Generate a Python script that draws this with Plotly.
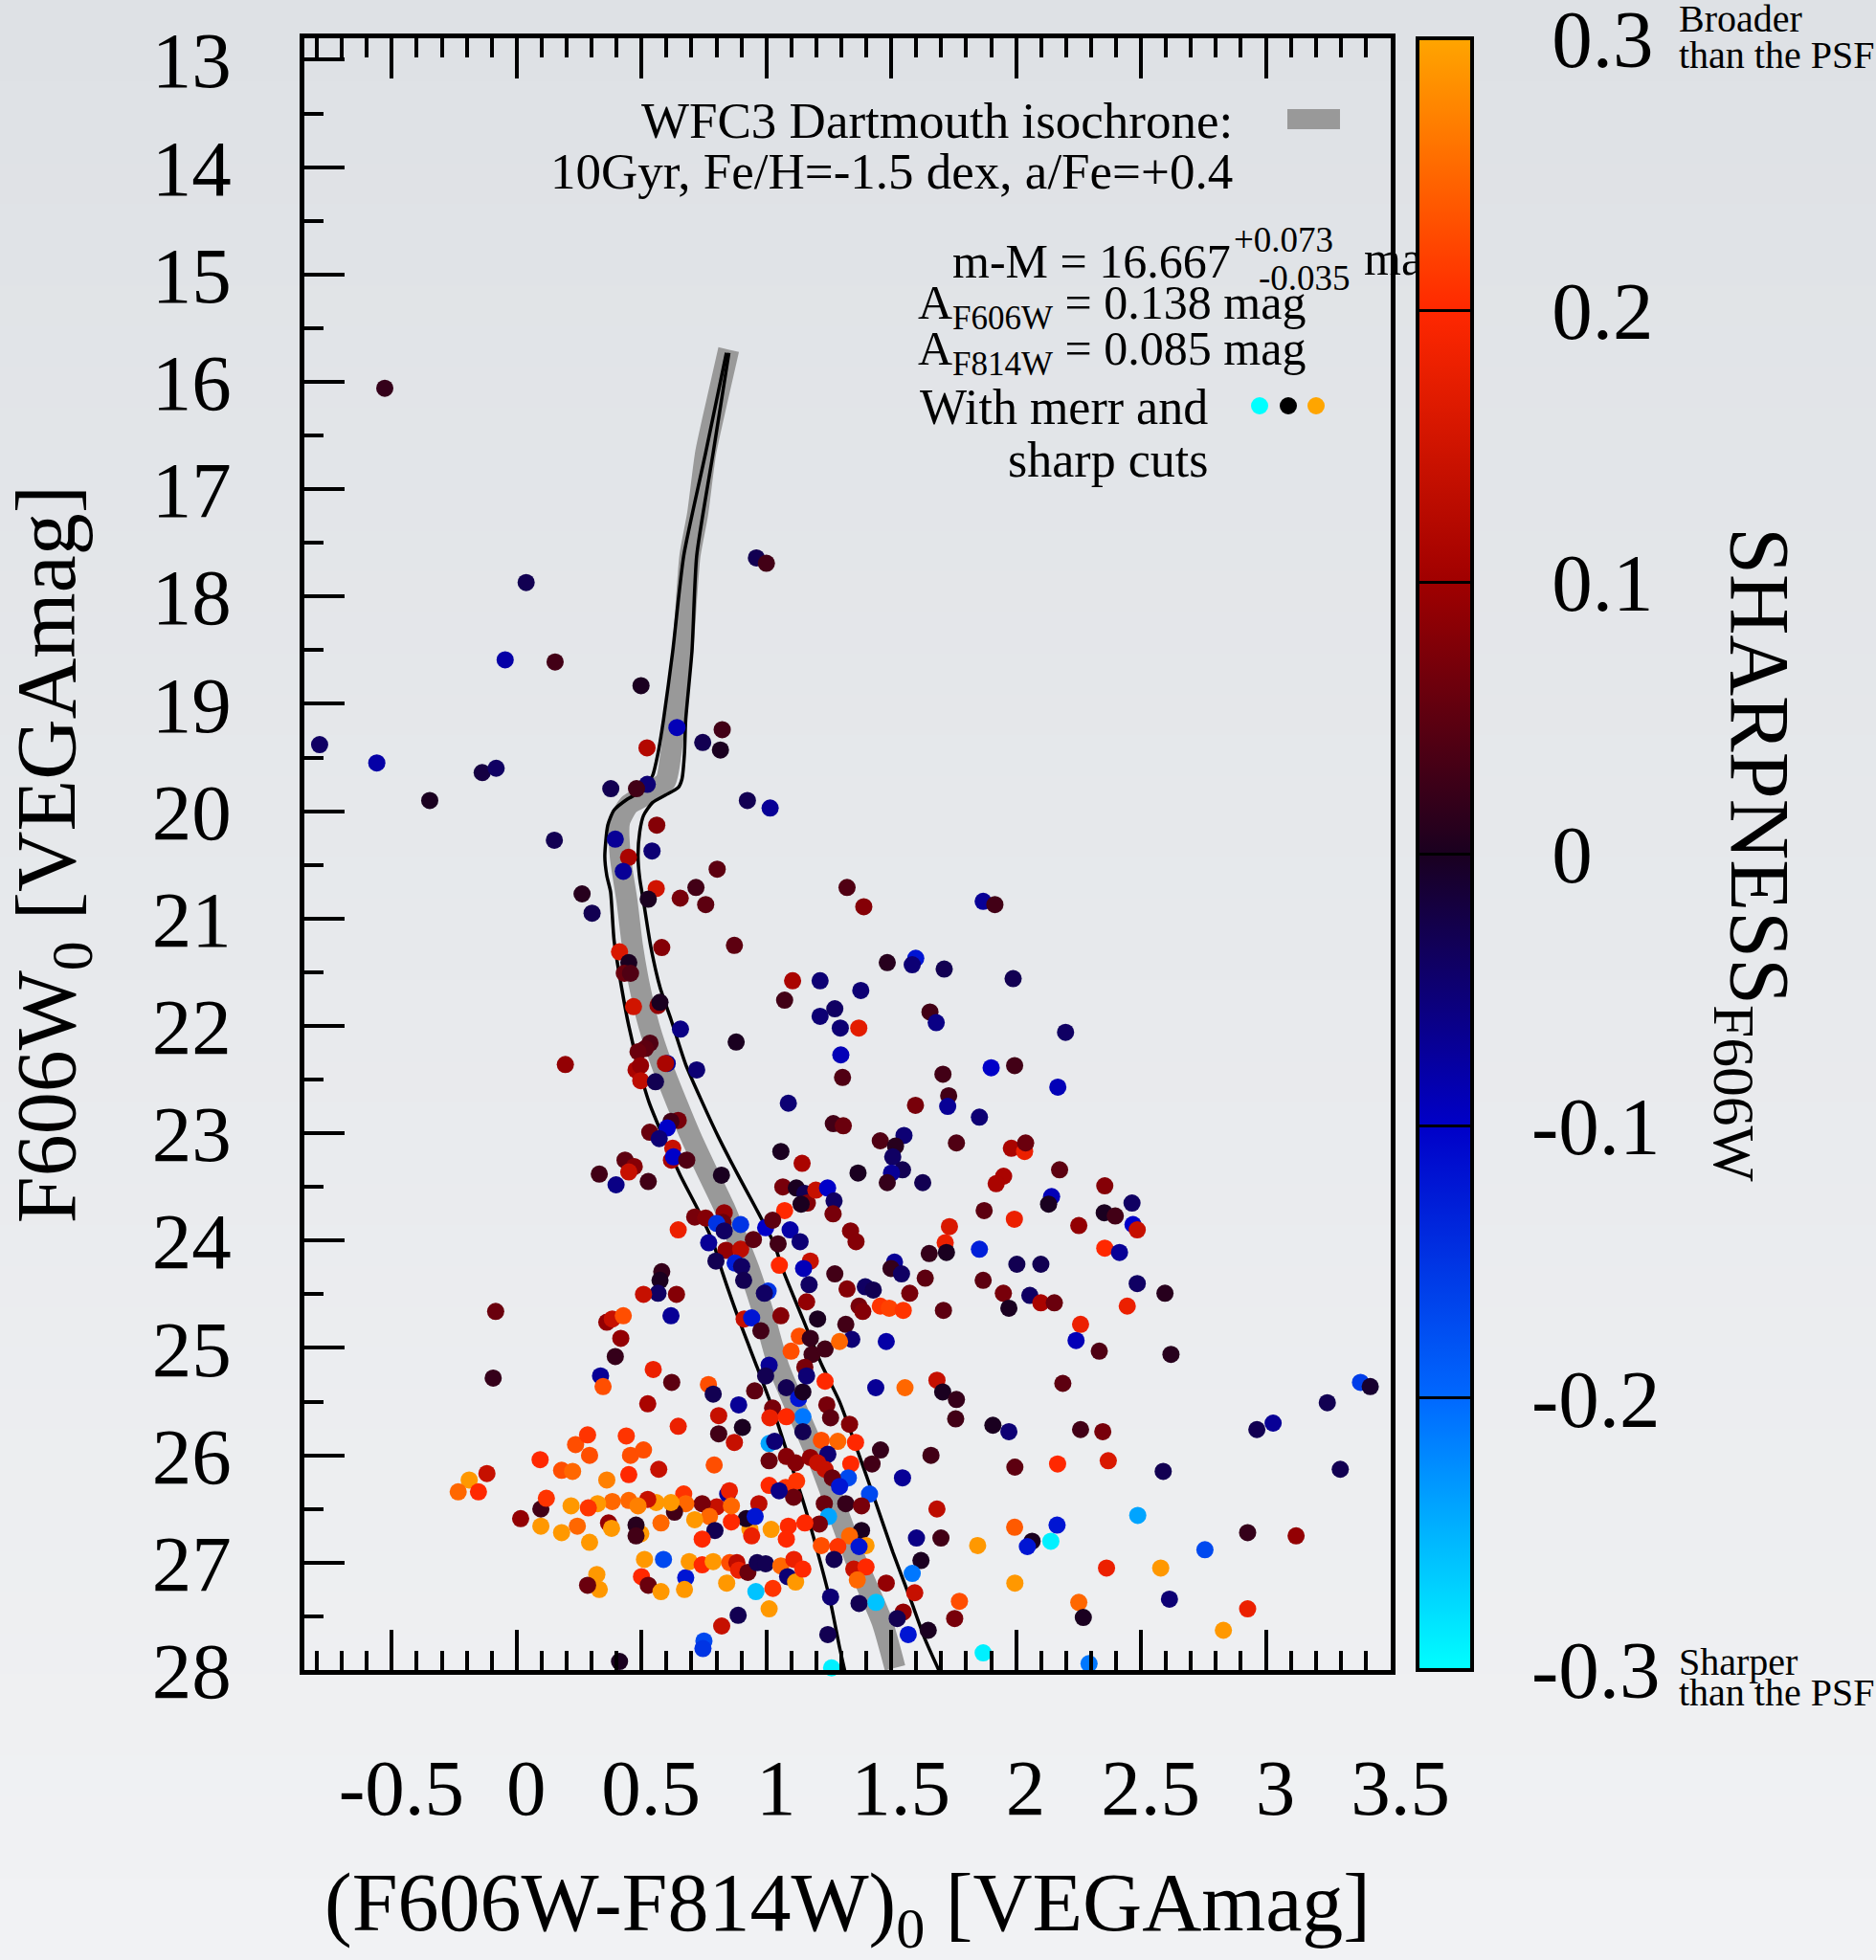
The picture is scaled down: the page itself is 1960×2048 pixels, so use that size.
import plotly.graph_objects as go

# ---------------------------------------------------------------------------
# Photometry after the merr and sharpness cuts
# ---------------------------------------------------------------------------
# (F606W-F814W)_0 colour of each star
color0 = [
    # bright giants and subgiants
    -0.528, 0.960, 1.000, 0.038, -0.046, 0.154, 0.498, 0.642, 0.823, 0.522,
    0.745, 0.816, -0.789, -0.560, -0.138, -0.082, -0.348, 0.377, 0.523, 0.480,
    0.924, 1.015, 0.561, 0.151, 0.395, 0.542, 0.448, 0.427, 0.803,
    # upper main sequence
    0.262, 0.302, 0.559, 0.527, 0.655, 0.718, 0.757, 1.323, 1.390, 0.581,
    0.412, 0.449, 0.431, 0.456, 0.872, 0.468, 0.566, 0.574, 0.656, 1.105,
    1.215, 1.378, 1.073, 1.215, 1.274, 1.296, 1.370, 1.298, 1.305, 0.879,
    0.534, 0.515, 0.486, 0.603, 0.596, 0.721, 0.478, 0.496, 0.497, 0.556,
    0.195, 1.088, 1.268, 1.308, 0.647, 0.618, 0.603, 0.533, 0.571, 0.625,
    0.620, 0.628, 0.681, 1.058, 1.143, 1.367, 0.434, 0.471, 0.449, 0.331,
    0.398, 0.527, 0.820, 1.066, 1.120, 1.154, 1.164, 1.198, 1.245, 1.271,
    1.267, 1.139, 1.073, 1.337, 1.359, 0.647, 0.713, 0.757, 0.831, 0.826,
    0.801, 0.831, 0.897, 0.769, 0.838, 0.897, 0.798, 0.875, 0.901, 0.909,
    0.948, 0.997, 1.025, 1.047, 1.095, 1.135, 1.052, 1.176, 1.149, 1.171,
    1.274, 1.323, 1.396, 1.007, 0.992, 0.581, 0.574, 0.566, 0.508, 0.640,
    # red field stars, bright half
    1.868, 1.915, 1.484, 1.598, 1.584, 1.712, 1.988, 1.655, 1.680, 2.198,
    1.900, 1.994, 2.167, 1.707, 1.730, 1.726, 1.597, 1.853, 1.456, 1.551,
    1.517, 1.506, 1.545, 1.501, 1.484, 1.626, 1.761, 1.981, 2.034, 2.038,
    2.174, 1.950, 1.920, 2.355, 2.142, 2.130, 2.464, 2.353, 2.397, 2.468,
    2.485, 1.872, 1.993, 2.251, 2.355, 2.414, 1.733, 1.716, 1.652, 1.721,
    1.853, 1.513, 1.499, 1.541, 1.636, 2.003, 2.099, 1.868, 2.485, 2.596,
    1.428, 1.574, 1.949, 2.055,
    # red field stars, faint half
    1.971, 2.099, 2.153, 1.371, 1.386, 1.456, 1.492, 1.548, 1.709, 2.445,
    2.258, 2.240, 2.333, 2.620, 1.318, 1.342, 1.480, 1.438, 1.555, 1.683,
    1.706, 1.761, 1.758, 2.187, 3.379, 3.418, 3.246, 3.029, 2.964, 3.298,
    1.907, 1.971, 2.258, 2.347, 1.333, 1.357, 1.457, 1.423, 1.659, 1.338,
    1.995, 2.166, 2.369, 2.589, 1.328, 1.545, 1.413, 1.318, 1.381, 1.683,
    2.487, 1.381, 1.333, 1.399, 1.371, 1.601, 1.699, 1.846, 1.994, 2.064,
    2.045, 2.164, 2.139, 2.756, 2.927, 3.121, 1.619, 1.584, 1.350, 1.399,
    1.364, 1.480, 1.594, 2.362, 2.579, 1.995, 1.371, 1.439, 1.773, 1.754,
    1.548, 1.524, 1.568, 1.648, 2.251, 2.269, 2.614, 2.927, 2.830, 1.868,
    2.292,
    # lower main sequence and blue faint stars
    -0.084, -0.094, 0.361, 0.383, 0.427, 0.417, 0.395, 0.618, 0.336, 0.346,
    0.547, 0.621, 0.525, 0.647, 0.768, 0.787, 0.889, 0.809, 0.809, 0.872,
    0.904, 0.953, 0.911, 0.941, 0.978, 1.058, 1.011, 0.997, 1.080, 1.129,
    1.146, 1.025, 1.014, 1.080, 1.146, 1.161, 1.205, 1.132, 1.176, 1.099,
    1.183, 1.235, 1.154, 1.161, 1.235, 1.293, 1.242, 1.257, 1.146, 1.220,
    1.286, 1.246, 1.011, 1.033, 1.011, 1.080, 1.117, 1.176, 1.205, 1.235,
    1.264, 1.293, 1.011, 1.077, 1.121, 1.109, 1.051, 1.232, 0.970, 1.249,
    1.212, 1.154, 1.088, 1.080, 1.220, 1.286, 1.271, 1.257, 1.246, 1.261,
    1.019, 0.934, 0.941, 0.919, 0.955, 0.860, 0.845, 0.852, 0.801, 0.743,
    0.772, 0.713, 0.794, 0.743, 0.860, 0.791, 0.669, 0.677, 0.632, 0.618,
    0.559, 0.525, 0.578, 0.497, 0.478, 0.478, 0.449, 0.569, 0.449, 0.486,
    0.383, 0.324, 0.287, 0.218, 0.368, 0.380, 0.243, 0.180, 0.292, 0.097,
    0.097, 0.119, 0.016, 0.094, 0.180, 0.224, 0.236, 0.284, 0.292, 0.439,
    0.456, 0.508, 0.361, 0.588, 0.512, 0.321, 0.331, 0.284, 0.500, 0.527,
    0.578, 0.677, 0.672, 0.691, 0.743, 0.787, 0.841, 0.853, 0.882, 0.889,
    0.926, 0.963, 0.997, 1.058, 1.085, 1.117, 1.110, 1.146, 0.958, 1.026,
    1.011, 0.887, 0.821, 0.750, 0.746, 0.412, -0.190, -0.234, -0.153, -0.119,
]

# F606W_0 magnitude of each star
f606w0 = [
    16.06, 17.64, 17.69, 17.87, 18.59, 18.61, 18.83, 19.22, 19.24, 19.41,
    19.36, 19.43, 19.38, 19.55, 19.64, 19.60, 19.90, 19.79, 19.75, 19.79,
    19.90, 19.97, 20.13, 20.27, 20.26, 20.37, 20.43, 20.56, 20.54,
    20.77, 20.95, 20.72, 20.82, 20.81, 20.71, 20.87, 20.71, 20.89, 21.27,
    21.31, 21.41, 21.51, 21.51, 21.25, 21.82, 21.81, 21.78, 22.03, 21.58,
    21.58, 21.67, 21.76, 21.91, 21.84, 22.02, 22.02, 22.27, 22.48, 22.15,
    22.16, 22.21, 22.24, 22.35, 22.35, 22.41, 22.41, 22.37, 22.51, 22.52,
    22.36, 22.72, 22.91, 22.93, 22.88, 22.89, 22.95, 22.99, 23.05, 23.14,
    23.25, 23.22, 23.25, 23.17, 23.28, 23.37, 23.25, 23.31, 23.36, 23.38,
    23.48, 23.45, 23.39, 23.50, 23.51, 23.56, 23.65, 23.53, 23.51, 23.63,
    23.75, 23.66, 23.72, 23.91, 24.01, 23.90, 23.78, 23.79, 23.74, 23.83,
    23.84, 23.91, 23.85, 24.02, 24.09, 24.08, 24.19, 24.21, 24.24, 24.37,
    23.99, 23.88, 23.81, 24.03, 23.90, 24.01, 24.23, 24.19, 24.26, 24.41,
    24.31, 24.45, 24.43, 24.47, 24.49, 24.29, 24.37, 24.49, 24.50, 24.50,
    20.84, 20.87, 21.41, 21.37, 21.43, 21.47, 21.56, 21.87, 21.97, 22.06,
    22.39, 22.37, 22.57, 22.45, 22.65, 22.75, 22.74, 22.85, 23.07, 23.02,
    23.12, 23.22, 23.34, 23.37, 23.46, 23.46, 23.09, 23.14, 23.17, 23.09,
    23.34, 23.40, 23.47, 23.49, 23.59, 23.66, 23.65, 23.74, 23.77, 23.85,
    23.90, 23.72, 23.80, 23.86, 24.07, 24.11, 23.87, 24.02, 24.12, 24.11,
    24.08, 24.20, 24.26, 24.31, 24.35, 24.22, 24.22, 24.37, 24.40, 24.49,
    24.46, 24.49, 24.49, 24.51,
    24.63, 24.58, 24.58, 24.61, 24.66, 24.61, 24.63, 24.65, 24.65, 24.61,
    24.78, 24.93, 25.03, 25.06, 24.78, 24.92, 24.94, 25.37, 25.37, 25.30,
    25.41, 25.48, 25.66, 25.33, 25.32, 25.36, 25.51, 25.70, 25.76, 26.13,
    25.72, 25.78, 25.76, 25.78, 25.71, 25.88, 25.95, 26.08, 26.00, 26.08,
    26.11, 26.08, 26.05, 26.15, 26.21, 26.21, 26.36, 26.45, 26.47, 26.50,
    26.56, 26.70, 26.75, 26.84, 26.85, 26.77, 26.77, 26.84, 26.67, 26.80,
    26.85, 26.65, 26.80, 26.88, 26.72, 26.75, 26.98, 27.10, 27.06, 27.04,
    27.16, 27.19, 27.28, 27.05, 27.05, 27.19, 27.38, 27.37, 27.36, 27.52,
    27.46, 27.52, 27.67, 27.63, 27.37, 27.51, 27.34, 27.43, 27.63, 27.84,
    27.94,
    24.66, 25.28, 24.76, 24.73, 24.70, 24.91, 25.08, 24.70, 25.26, 25.36,
    25.20, 25.32, 25.52, 25.73, 25.34, 25.43, 25.53, 25.63, 25.80, 25.88,
    25.74, 25.40, 24.73, 24.72, 24.84, 24.70, 25.16, 25.26, 25.37, 25.47,
    25.64, 25.56, 25.65, 25.64, 25.41, 24.57, 24.73, 24.89, 24.91, 25.03,
    25.06, 25.01, 25.18, 25.26, 25.31, 24.94, 25.53, 25.65, 25.78, 25.86,
    25.87, 25.99, 25.89, 25.87, 26.05, 26.01, 26.07, 26.02, 26.07, 26.13,
    26.21, 26.29, 26.28, 26.30, 26.24, 26.39, 26.33, 26.45, 26.45, 26.57,
    26.64, 26.63, 26.66, 26.78, 26.84, 26.85, 26.97, 27.32, 27.67, 27.98,
    26.69, 26.69, 26.75, 26.59, 26.57, 26.62, 26.36, 26.33, 26.48, 26.45,
    26.57, 26.60, 26.70, 26.78, 26.47, 26.09, 26.36, 26.45, 26.53, 26.44,
    26.44, 26.41, 26.63, 26.73, 26.65, 26.75, 26.18, 26.13, 26.42, 26.47,
    26.43, 26.45, 26.49, 26.47, 26.63, 26.68, 26.66, 26.72, 26.81, 26.66,
    26.50, 26.40, 26.59, 26.04, 26.14, 26.15, 25.90, 25.81, 26.00, 25.82,
    26.00, 25.95, 26.23, 26.97, 26.97, 27.11, 27.25, 27.21, 27.13, 27.21,
    27.27, 27.14, 27.25, 26.99, 27.02, 26.99, 27.19, 27.00, 27.00, 27.07,
    27.09, 27.00, 27.01, 27.03, 27.13, 27.18, 26.97, 27.06, 27.27, 27.24,
    27.43, 27.49, 27.59, 27.73, 27.80, 27.92, 26.23, 26.34, 26.34, 26.17,
]

# DAOPHOT sharpness measured in F606W
sharpness = [
    0.02, -0.03, 0.03, -0.03, -0.08, 0.03, 0.00, -0.09, 0.03, 0.12,
    -0.03, 0.00, -0.04, -0.08, -0.02, -0.04, 0.00, -0.03, -0.05, 0.03,
    -0.03, -0.07, 0.08, -0.03, -0.07, -0.05, 0.11, -0.07, 0.05,
    0.01, -0.03, 0.15, 0.00, 0.07, 0.03, 0.05, 0.04, 0.08, 0.08,
    0.16, 0.00, 0.06, 0.04, 0.05, 0.15, 0.09, 0.00, -0.06, 0.11,
    -0.05, -0.05, 0.03, -0.05, -0.04, -0.05, 0.17, -0.09, 0.04, 0.00,
    0.04, 0.05, 0.06, -0.07, 0.11, -0.05, 0.11, 0.09, 0.13, -0.03,
    0.09, -0.05, 0.03, 0.06, 0.07, 0.03, -0.10, 0.06, -0.05, 0.14,
    0.11, -0.10, 0.04, 0.00, 0.11, 0.00, 0.05, 0.08, 0.14, 0.03,
    -0.06, 0.03, 0.00, 0.07, 0.00, -0.03, 0.08, 0.14, -0.10, -0.04,
    0.07, 0.00, 0.20, 0.08, 0.08, 0.18, 0.07, 0.08, 0.09, 0.06,
    -0.15, -0.04, -0.15, -0.07, 0.09, 0.13, -0.03, -0.13, -0.04, -0.03,
    0.05, -0.10, 0.05, 0.03, -0.08, -0.05, 0.20, 0.14, -0.09, -0.04,
    0.03, 0.08, -0.04, -0.15, -0.04, 0.02, 0.00, -0.04, 0.14, 0.08,
    -0.07, 0.03, 0.01, -0.12, -0.05, -0.03, -0.03, 0.03, -0.06, -0.04,
    -0.10, 0.03, -0.09, 0.03, 0.03, -0.07, 0.07, -0.05, 0.04, -0.05,
    0.01, -0.04, -0.03, -0.07, 0.02, -0.03, 0.04, 0.11, 0.18, 0.06,
    0.05, 0.11, 0.11, 0.08, -0.09, 0.00, -0.04, 0.00, 0.03, -0.10,
    0.14, 0.05, 0.18, 0.09, 0.20, -0.07, 0.16, 0.18, 0.02, 0.00,
    -0.13, -0.07, 0.02, -0.04, 0.05, -0.03, -0.03, 0.05, -0.04, 0.01,
    -0.03, 0.07, 0.07, -0.04,
    0.00, 0.11, 0.06, 0.07, 0.08, 0.21, 0.22, 0.21, 0.05, 0.18,
    0.18, -0.09, 0.04, 0.01, 0.03, -0.05, -0.08, -0.07, 0.25, 0.14,
    0.00, 0.02, 0.03, 0.05, -0.16, -0.01, -0.03, -0.07, -0.03, -0.03,
    0.00, -0.05, 0.03, 0.07, 0.08, 0.20, 0.02, 0.03, 0.03, 0.20,
    0.05, 0.20, 0.16, -0.03, -0.17, -0.07, -0.17, 0.02, 0.07, 0.13,
    -0.24, 0.00, 0.25, 0.29, -0.12, -0.06, 0.03, 0.29, 0.24, 0.00,
    -0.12, -0.12, -0.29, -0.17, 0.02, 0.09, 0.00, -0.21, 0.14, 0.20,
    0.25, 0.09, 0.14, 0.18, 0.29, 0.29, -0.03, -0.26, 0.23, 0.07,
    0.09, -0.03, -0.12, 0.00, 0.25, 0.00, -0.05, 0.18, 0.29, -0.29,
    -0.21,
    0.06, 0.02, 0.09, 0.14, 0.23, 0.09, 0.02, -0.07, -0.07, 0.23,
    0.18, 0.05, 0.11, 0.18, 0.23, -0.03, -0.07, 0.14, 0.03, 0.14,
    0.00, 0.05, 0.14, -0.12, 0.03, 0.08, -0.07, -0.03, -0.03, -0.12,
    -0.21, 0.07, 0.18, 0.20, 0.00, 0.09, 0.00, 0.23, 0.02, 0.23,
    0.03, 0.03, 0.07, -0.05, 0.20, 0.25, 0.07, 0.05, -0.03, 0.23,
    0.25, -0.05, -0.24, -0.05, 0.06, 0.08, 0.08, 0.09, 0.14, 0.14,
    0.06, -0.12, 0.20, 0.21, 0.21, 0.06, -0.06, 0.06, 0.13, -0.24,
    0.07, 0.20, 0.20, 0.20, 0.23, 0.21, -0.03, -0.05, -0.03, -0.29,
    0.29, 0.29, 0.18, 0.00, -0.12, 0.20, -0.07, 0.18, 0.14, 0.07,
    0.25, 0.29, -0.03, 0.20, 0.25, 0.23, 0.21, 0.25, 0.03, 0.29,
    0.29, 0.14, 0.25, 0.29, 0.01, 0.03, 0.20, 0.14, 0.25, 0.27,
    0.25, 0.29, 0.21, 0.29, 0.09, 0.29, 0.25, 0.29, 0.29, 0.29,
    0.03, 0.21, 0.09, 0.20, 0.23, 0.25, 0.23, 0.21, 0.23, 0.21,
    0.23, 0.23, 0.27, -0.17, 0.29, 0.29, 0.29, 0.06, 0.20, 0.06,
    0.29, -0.12, 0.29, 0.29, 0.20, 0.29, 0.29, 0.23, 0.13, 0.18,
    0.06, -0.03, -0.03, 0.25, -0.05, 0.29, 0.18, 0.20, -0.26, 0.21,
    0.29, -0.03, 0.14, -0.17, -0.15, 0.00, 0.29, 0.25, 0.20, 0.14,
]

# ---------------------------------------------------------------------------
# WFC3 Dartmouth isochrone: 10 Gyr, [Fe/H]=-1.5, [a/Fe]=+0.4
# ---------------------------------------------------------------------------
iso_color = [0.849, 0.800, 0.757, 0.724, 0.694, 0.665, 0.634, 0.618, 0.596, 0.515,
             0.449, 0.412, 0.415, 0.442, 0.464, 0.493, 0.530, 0.581, 0.640, 0.699,
             0.765, 0.831, 0.889, 0.934, 0.995, 1.050, 1.130, 1.213, 1.285, 1.355,
             1.463, 1.515]
iso_mag = [15.70, 16.20, 16.66, 17.24, 17.62, 18.51, 19.15, 19.46, 19.72, 19.85,
           19.94, 20.10, 20.42, 20.84, 21.26, 21.64, 22.00, 22.36, 22.71, 23.04,
           23.37, 23.69, 24.02, 24.29, 24.73, 25.18, 25.62, 26.07, 26.52, 26.96,
           27.55, 27.98]

# Blue-side bounding track
iso_blue_color = [0.840, 0.757, 0.669, 0.625, 0.588, 0.566, 0.544, 0.500, 0.442, 0.390,
                  0.365, 0.353, 0.361, 0.376, 0.390, 0.420, 0.449, 0.486, 0.530, 0.588,
                  0.655, 0.728, 0.787, 0.823, 0.889, 0.963, 1.029, 1.088, 1.146, 1.205,
                  1.257, 1.293, 1.318]
iso_blue_mag = [15.73, 16.66, 17.62, 18.51, 19.15, 19.46, 19.67, 19.81, 19.89, 19.99,
                20.13, 20.42, 20.60, 20.75, 21.20, 21.64, 22.00, 22.36, 22.71, 23.04,
                23.39, 23.72, 24.02, 24.29, 24.73, 25.18, 25.59, 26.01, 26.42, 26.90,
                27.37, 27.79, 28.05]

# Red-side bounding track
iso_red_color = [0.850, 0.787, 0.721, 0.702, 0.677, 0.672, 0.662, 0.647, 0.596, 0.544,
                 0.508, 0.493, 0.486, 0.493, 0.508, 0.537, 0.574, 0.618, 0.677, 0.743,
                 0.809, 0.882, 0.956, 1.029, 1.069, 1.146, 1.220, 1.293, 1.364, 1.435,
                 1.506, 1.577, 1.633, 1.700]
iso_red_mag = [15.73, 16.66, 17.62, 18.51, 19.15, 19.46, 19.70, 19.78, 19.85, 19.92,
               20.04, 20.19, 20.42, 20.63, 20.84, 21.26, 21.64, 21.94, 22.36, 22.71,
               23.04, 23.37, 23.69, 24.02, 24.29, 24.73, 25.15, 25.50, 25.95, 26.42,
               26.90, 27.34, 27.70, 28.05]

# Axis ticks
x_tickvals = [-0.5, 0, 0.5, 1, 1.5, 2, 2.5, 3, 3.5]
x_ticktext = ["-0.5", "0", "0.5", "1", "1.5", "2", "2.5", "3", "3.5"]
y_tickvals = list(range(13, 29))
y_ticktext = [str(v) for v in y_tickvals]
cb_tickvals = [-0.2999, -0.2, -0.1, 0, 0.1, 0.2, 0.2999]
cb_ticktext = ["-0.3", "-0.2", "-0.1", "0", "0.1", "0.2", "0.3"]

# ---------------------------------------------------------------------------
# Page geometry
# ---------------------------------------------------------------------------
W, H = 1960, 2048
ML, MR, MT, MB = 318, 479, 40, 303
PW, PH = W - ML - MR, H - MT - MB
AXIS_END = 1135 / PW          # right edge of the CMD frame inside the paper
X_RANGE = [-0.85, 3.5]
Y_RANGE = [28.0, 12.8]
FONT = "Liberation Serif"


def fx(p):
    """pixel column -> paper x"""
    return (p - ML) / PW


def fy(p):
    """pixel row -> paper y"""
    return 1 - (p - MT) / PH


def mag_at_row(p):
    return Y_RANGE[1] + (p - MT) / PH * (Y_RANGE[0] - Y_RANGE[1])


sharp_scale = [
    [0.0, "#00ffff"],
    [1 / 6, "#0068ff"],
    [2 / 6, "#0000c8"],
    [0.5, "#1a0020"],
    [4 / 6, "#a00000"],
    [5 / 6, "#ff2800"],
    [1.0, "#ffa500"],
]


def cb_label(t):
    pad = "\u00a0" * (2 if t.startswith("-") else 3)
    return pad + t


fig = go.Figure()

# isochrone band and its bounding tracks
fig.add_trace(go.Scatter(
    x=iso_color, y=iso_mag, mode="lines",
    line=dict(color="#999999", width=22, shape="spline", smoothing=0.6),
    hoverinfo="skip", showlegend=False))
for cx, cy in ((iso_blue_color, iso_blue_mag), (iso_red_color, iso_red_mag)):
    fig.add_trace(go.Scatter(
        x=cx, y=cy, mode="lines",
        line=dict(color="black", width=3.5, shape="spline", smoothing=0.6),
        hoverinfo="skip", showlegend=False))

# the stars, coloured by sharpness
fig.add_trace(go.Scatter(
    x=color0, y=f606w0, mode="markers", cliponaxis=False, showlegend=False,
    marker=dict(
        size=18, color=sharpness, colorscale=sharp_scale, cmin=-0.3, cmax=0.3,
        line=dict(width=0), opacity=1,
        colorbar=dict(
            x=1.0, xanchor="left", xpad=0, y=0.5, yanchor="middle", ypad=0,
            len=1, lenmode="fraction", thickness=57, thicknessmode="pixels",
            outlinewidth=4, outlinecolor="black", bgcolor="rgba(0,0,0,0)",
            tickmode="array", tickvals=cb_tickvals,
            ticktext=[cb_label(t) for t in cb_ticktext],
            ticks="inside", ticklen=57, tickwidth=3, tickcolor="black",
            ticklabeloverflow="allow",
            tickfont=dict(family=FONT, size=85, color="black"),
            title=dict(text=""),
        ),
    ),
))

# distance-modulus unit, clipped where the colour box starts
fig.add_trace(go.Scatter(
    x=[1425 - ML], y=[mag_at_row(274)], xaxis="x2", yaxis="y",
    mode="text", text=["mag"], textposition="middle right", cliponaxis=True,
    textfont=dict(family=FONT, size=50, color="black"),
    hoverinfo="skip", showlegend=False))

# soft slide background
shapes = []
top_c, bot_c = (0xDE, 0xE1, 0xE5), (0xF1, 0xF2, 0xF4)
NB = 48
for i in range(NB):
    t = i / (NB - 1)
    c = tuple(round(a + (b - a) * t) for a, b in zip(top_c, bot_c))
    shapes.append(dict(
        type="rect", xref="paper", yref="paper", layer="below",
        x0=fx(0), x1=fx(W), y0=fy(H * (i + 1) / NB + 1), y1=fy(H * i / NB),
        fillcolor="rgb(%d,%d,%d)" % c, line=dict(width=0)))

# isochrone key swatch
shapes.append(dict(type="rect", xref="paper", yref="paper", layer="above",
                   x0=fx(1345), x1=fx(1400), y0=fy(135), y1=fy(114),
                   fillcolor="#999999", line=dict(width=0)))
# sample dots for the cuts key
for cxp, col in ((1316, "#00ffff"), (1346, "#000000"), (1375, "#ffa500")):
    r = 9
    shapes.append(dict(type="circle", xref="paper", yref="paper", layer="above",
                       x0=fx(cxp - r), x1=fx(cxp + r), y0=fy(424 + r), y1=fy(424 - r),
                       fillcolor=col, line=dict(width=0)))


def note(text, xp, yp, size, xanchor="left", angle=0):
    return dict(text=text, x=fx(xp), y=fy(yp), xref="paper", yref="paper",
                xanchor=xanchor, yanchor="middle", showarrow=False,
                textangle=angle, font=dict(family=FONT, size=size, color="black"))


annotations = [
    note("WFC3 Dartmouth isochrone:", 1290, 126, 53, "right"),
    note("10Gyr, Fe/H=-1.5 dex, a/Fe=+0.4", 1290, 179, 53, "right"),
    note("m-M = 16.667", 1288, 273, 50, "right"),
    note("+0.073", 1287, 250, 37),
    note("-0.035", 1313, 290, 37),
    note("A<sub>F606W</sub> = 0.138 mag", 957, 320, 50),
    note("A<sub>F814W</sub> = 0.085 mag", 957, 368, 50),
    note("With merr and", 1264, 426, 52, "right"),
    note("sharp cuts", 1264, 480, 52, "right"),
    note("Broader", 1752, 19, 40),
    note("than the PSF", 1752, 57, 40),
    note("Sharper", 1752, 1736, 40),
    note("than the PSF", 1752, 1768, 40),
    note("SHARPNESS<sub>F606W</sub>", 1832, 893, 88, "center", 90),
]

axis_common = dict(
    showline=True, linewidth=4.5, linecolor="black", showgrid=False,
    zeroline=False, ticks="inside", tickwidth=3.5, tickcolor="black",
    ticklen=42, tickmode="array",
    tickfont=dict(family=FONT, size=83, color="black"),
)

fig.update_layout(
    width=W, height=H, autosize=False,
    margin=dict(l=ML, r=MR, t=MT, b=MB, pad=0),
    paper_bgcolor="#e8eaed", plot_bgcolor="rgba(0,0,0,0)",
    font=dict(family=FONT, color="black"),
    showlegend=False,
    xaxis=dict(
        axis_common, domain=[0, AXIS_END], range=X_RANGE,
        tickvals=x_tickvals, ticktext=x_ticktext, mirror="ticks",
        ticklabelstandoff=47, ticklabelshift=10,
        minor=dict(tickmode="linear", tick0=0, dtick=0.1, ticks="inside",
                   ticklen=20, tickwidth=3.5, tickcolor="black", showgrid=False),
        title=dict(text="(F606W-F814W)<sub>0</sub> [VEGAmag]",
                   font=dict(family=FONT, size=86, color="black"), standoff=53),
    ),
    yaxis=dict(
        axis_common, range=Y_RANGE, tickvals=y_tickvals, ticktext=y_ticktext,
        mirror=True, ticklabelstandoff=55,
        minor=dict(tickmode="linear", tick0=0, dtick=0.5, ticks="inside",
                   ticklen=20, tickwidth=3.5, tickcolor="black", showgrid=False),
        title=dict(text="F606W<sub>0</sub> [VEGAmag]",
                   font=dict(family=FONT, size=88, color="black"), standoff=73),
    ),
    xaxis2=dict(domain=[0, 1], range=[0, PW], visible=False, anchor="y",
                fixedrange=True),
    shapes=shapes,
    annotations=annotations,
)

fig.write_html("out.html")
